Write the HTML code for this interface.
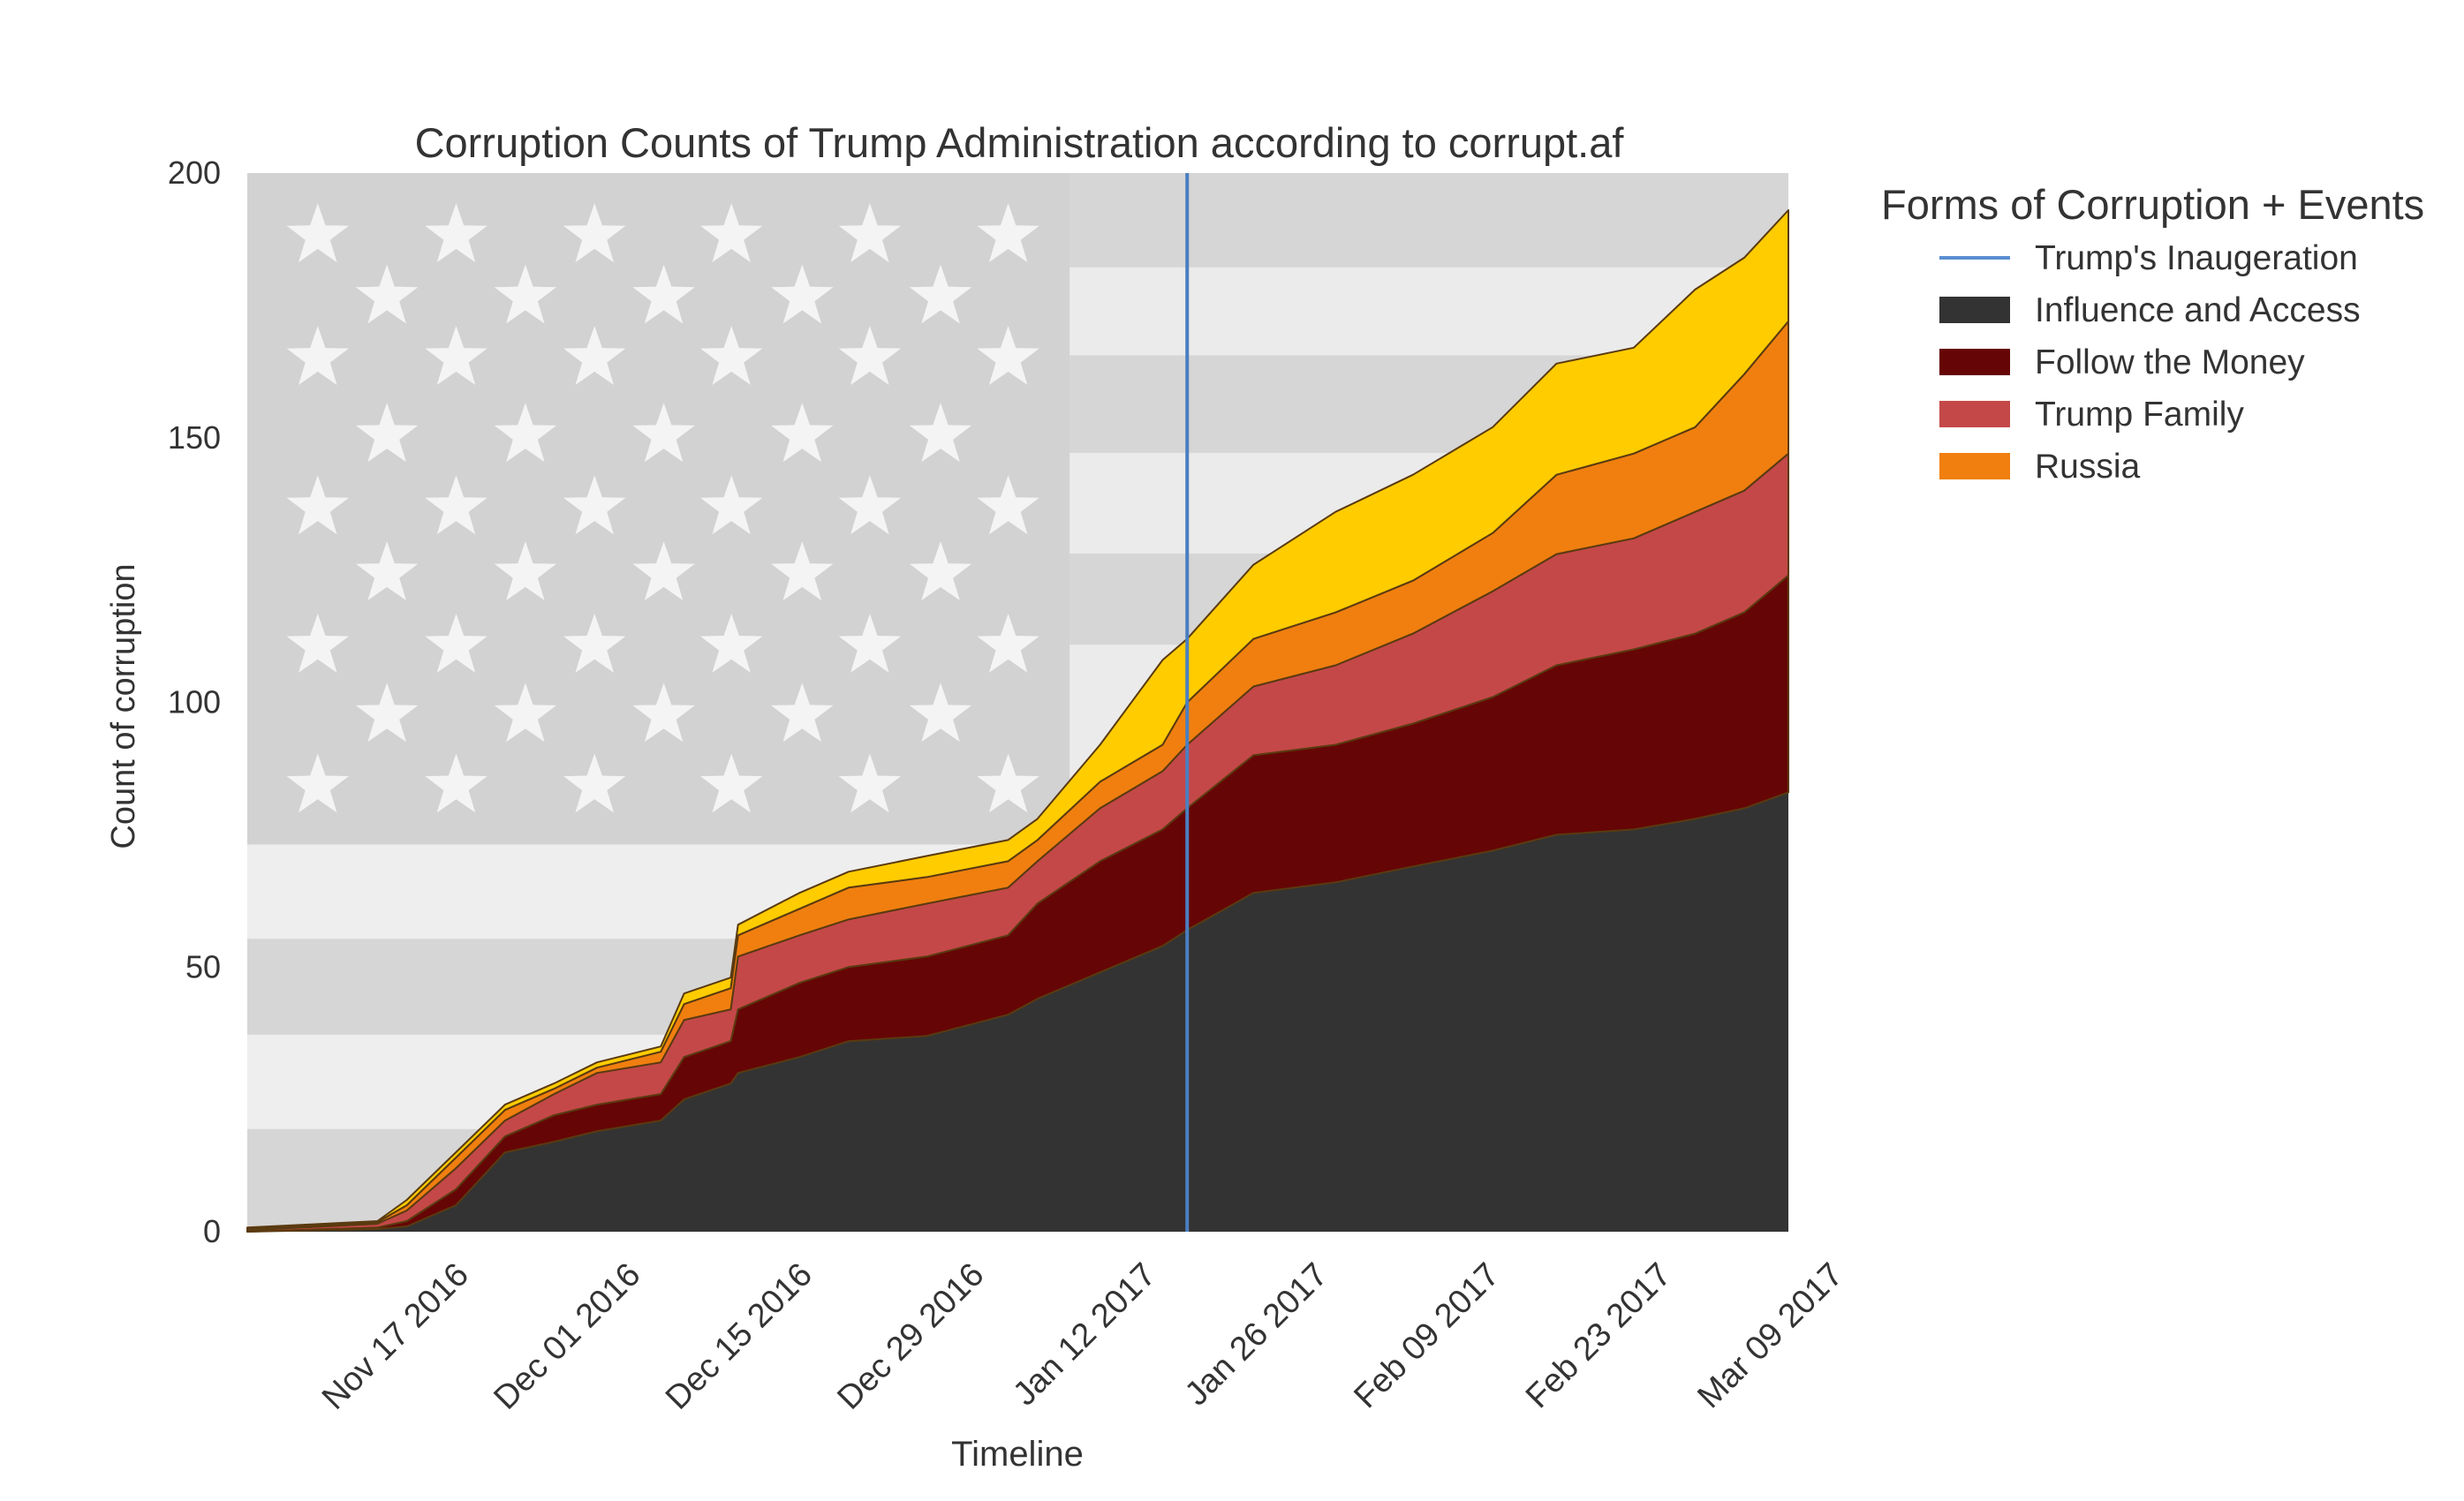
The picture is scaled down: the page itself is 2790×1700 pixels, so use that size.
<!DOCTYPE html>
<html><head><meta charset="utf-8">
<style>
html,body{margin:0;padding:0;background:#fff;}
svg{display:block;font-family:"Liberation Sans",sans-serif;}
</style></head>
<body>
<svg id="chart" width="2790" height="1700" viewBox="0 0 2790 1700">
<g id="bg"></g>
<g id="areas"></g>
<g id="axes"></g>
<text x="1154" y="178" font-size="47" fill="#333" text-anchor="middle">Corruption Counts of Trump Administration according to corrupt.af</text>
<text transform="translate(152,800) rotate(-90)" font-size="38" fill="#333" text-anchor="middle">Count of corruption</text>
<text x="1152" y="1660" font-size="40" fill="#333" text-anchor="middle">Timeline</text>
<g>
<text x="2130" y="248" font-size="47" fill="#333">Forms of Corruption + Events</text>
<line x1="2196" y1="292" x2="2276" y2="292" stroke="#5b8fd0" stroke-width="4"/>
<text x="2304" y="305" font-size="39" fill="#333">Trump's Inaugeration</text>
<rect x="2196" y="336" width="80" height="30" fill="#333333"/>
<text x="2304" y="364" font-size="39" fill="#333">Influence and Access</text>
<rect x="2196" y="395" width="80" height="30" fill="#660505"/>
<text x="2304" y="423" font-size="39" fill="#333">Follow the Money</text>
<rect x="2196" y="454" width="80" height="30" fill="#c44848"/>
<text x="2304" y="482" font-size="39" fill="#333">Trump Family</text>
<rect x="2196" y="513" width="80" height="30" fill="#f07f0f"/>
<text x="2304" y="541" font-size="39" fill="#333">Russia</text>
</g>
</svg>
<script>
// days since Nov 04 2016
const days = [0,10.6,13,17,21,25,28.5,33.7,35.6,39.4,40,45,49,55.4,62,64.4,69.5,74.6,76.6,82,88.7,95,101.5,106.7,113,118,122,125.6];
const influence = [0,0.5,1,5,15,17,19,21,25,28,30,33,36,37,41,44,49,54,57,64,66,69,72,75,76,78,80,83];
const money     = [0,0.3,1,3,3,5,5,5,8,8,12,14,14,15,15,18,21,22,23,26,26,27,29,32,34,35,37,41];
const family    = [0.3,0.7,2,4,3,4,6,6,7,6,10,9,9,10,9,8,10,11,12,13,15,17,20,21,21,23,23,23];
const russia    = [0.2,0.3,1,2,2,1,1,2,3,4,4,5,6,5,5,4,5,5,8,9,10,10,11,15,16,16,22,25];
const other     = [0.3,0.2,1,1,1,1,1,1,2,2,2,3,3,4,4,4,7,16,12,14,19,20,20,21,20,26,22,21];
const yTicks = [0,50,100,150,200];
const xTickDays = [13,27,41,55,69,83,97,111,125];
const xTickLabels = ["Nov 17 2016","Dec 01 2016","Dec 15 2016","Dec 29 2016","Jan 12 2017","Jan 26 2017","Feb 09 2017","Feb 23 2017","Mar 09 2017"];
const inaugurationDay = 76.6;

const NS="http://www.w3.org/2000/svg";
const S=1.781;
const L=280,R=2025,T=196,B=1395;
const xs=d=>L+d/125.6*(R-L);
const ys=v=>B-v/200*(B-T);
function mk(tag,attrs,parent){const e=document.createElementNS(NS,tag);for(const k in attrs)e.setAttribute(k,attrs[k]);parent.appendChild(e);return e;}

const bg=document.getElementById('bg');
const r1=mk('rect',{x:L,y:T,width:R-L,height:B-T,fill:'#d6d6d6'},bg);


const CX=680*S, CY=537*S;
[[537,597],[658,718]].forEach(s=>{const e=mk('rect',{x:L,y:s[0]*S,width:R-L,height:(s[1]-s[0])*S,fill:'#eeeeee'},bg);

});
[[170,226],[288,352],[410,537]].forEach(s=>{const e=mk('rect',{x:CX,y:s[0]*S,width:R-CX,height:(s[1]-s[0])*S,fill:'#ebebeb'},bg);

});
const cant=mk('rect',{x:L,y:T,width:CX-L,height:CY-T,fill:'#d2d2d2'},bg);


const rowsY=[150,189,228,277,323,365,411,455,500];
function starPath(cx,cy,r){let p='';for(let i=0;i<10;i++){const a=-Math.PI/2+i*Math.PI/5,rr=i%2?r*0.4:r;p+=(i?'L':'M')+(cx+rr*Math.cos(a)).toFixed(1)+','+(cy+rr*Math.sin(a)).toFixed(1);}return p+'Z';}
rowsY.forEach((y,i)=>{const cols=i%2?[246,334,422,510,598]:[202,290,378,465,553,641];
cols.forEach(x=>{const s=mk('path',{d:starPath(x*S,y*S,37),fill:'#f4f4f4'},bg);

});});

const series=[influence,money,family,russia,other];
const colors=['#333333','#660505','#c44848','#f07f0f','#ffcc00'];
const names=['area-influence-access','area-follow-money','area-trump-family','area-russia','area-other'];
const areas=document.getElementById('areas');
let base=days.map(()=>0);
series.forEach((s,k)=>{
  const top=base.map((b,i)=>b+s[i]);
  let d='M'+xs(days[0])+','+ys(top[0]);
  for(let i=1;i<days.length;i++)d+='L'+xs(days[i]).toFixed(1)+','+ys(top[i]).toFixed(1);
  for(let i=days.length-1;i>=0;i--)d+='L'+xs(days[i]).toFixed(1)+','+ys(base[i]).toFixed(1);
  const p=mk('path',{d:d+'Z',fill:colors[k],stroke:k?'#5a3a10':'none','stroke-width':2,'stroke-linejoin':'round'},areas);
  
  
  base=top;
});
const inl=mk('line',{x1:xs(inaugurationDay),x2:xs(inaugurationDay),y1:T,y2:B,stroke:'#4a7fc1','stroke-width':4},areas);



const ax=document.getElementById('axes');
yTicks.forEach(v=>{const t=mk('text',{x:250,y:ys(v)+12,'font-size':36,fill:'#333','text-anchor':'end'},ax);t.textContent=v;

});
xTickDays.forEach((d,i)=>{const x=xs(d)+72,y=1446;
const t=mk('text',{transform:`translate(${x},${y}) rotate(-45)`,'font-size':38,fill:'#333','text-anchor':'end'},ax);
t.textContent=xTickLabels[i];

});
</script>
</body></html>
